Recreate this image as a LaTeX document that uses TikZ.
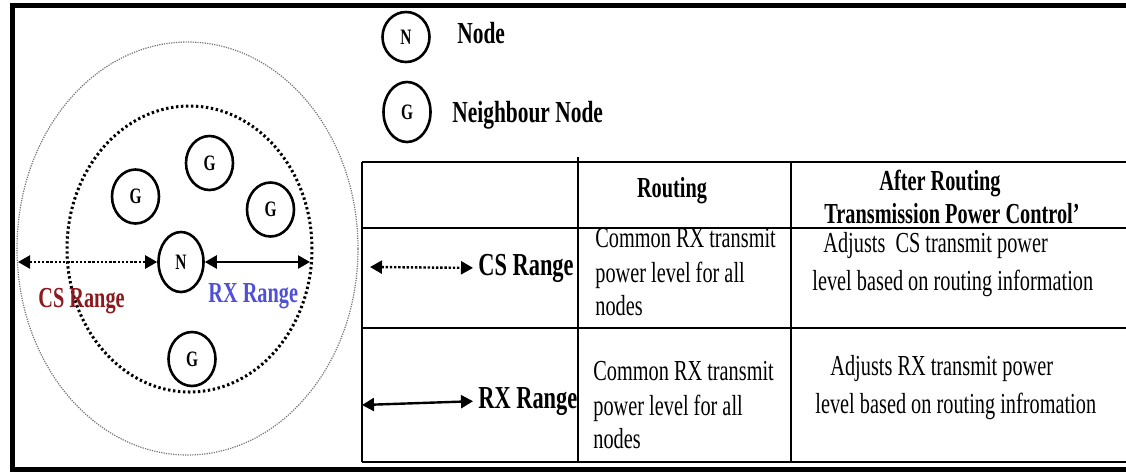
\documentclass[tikz,border=0pt]{standalone}
\usepackage{fontspec}
\setmainfont{Liberation Serif}[FakeStretch=0.7]
\usetikzlibrary{positioning}
\usetikzlibrary{arrows.meta,shapes}
\definecolor{csred}{RGB}{140,25,30}
\definecolor{rxblue}{RGB}{80,80,215}
\tikzstyle{vertex}=[ellipse,draw,line width=1.3pt,minimum width=23.5pt,minimum height=27pt,inner sep=0pt,font=\fontsize{11}{13}\selectfont\bfseries]
\tikzstyle{ringshape} = [ellipse,draw,inner sep=0pt]
\tikzstyle{csarrow} = [draw,line width=1.2pt,dash pattern=on 1.2pt off 0.9pt,{Triangle[length=6pt,width=6.5pt]}-{Triangle[length=6pt,width=6.5pt]}]
\tikzstyle{rxarrow} = [draw,line width=1.2pt,{Triangle[length=6pt,width=6.5pt]}-{Triangle[length=6pt,width=6.5pt]}]
\tikzstyle{cell} = [anchor=base west,inner sep=0pt,font=\fontsize{14.5}{17}\selectfont]
\tikzstyle{boldcell} = [cell,font=\fontsize{14.5}{17}\selectfont\bfseries]
\tikzstyle{keycell} = [cell,font=\fontsize{16}{19}\selectfont\bfseries]
\tikzstyle{legendcell} = [cell,font=\fontsize{15.3}{18}\selectfont\bfseries]
\tikzstyle{head} = [boldcell,anchor=base]
\tikzstyle{tableline} = [draw,line width=1.1pt]

\begin{document}
\begin{tikzpicture}[x=0.5pt,y=-0.5pt]
    \useasboundingbox (0,0) rectangle (1126,473);

    % frame
    \draw[line width=2.5pt] (1126,5) -- (12,5) -- (12,469) -- (1126,469);

    % CS and RX ranges
    \node[ringshape,draw=black!55,line width=0.6pt,dash pattern=on 0.6pt off 0.6pt,minimum width=170.5pt,minimum height=206.5pt] (csring) at (187.5,248.5) {};
    \node[ringshape,line width=1.5pt,dash pattern=on 1.2pt off 1.3pt,minimum width=122.5pt,minimum height=143pt] (rxring) at (189.5,249) {};

    % First we draw the vertices
    \node[vertex,minimum width=22.5pt,minimum height=30pt] (N) at (181,262) {N};
    \foreach \pos/\name in {{(135.5,196.5)/G1}, {(209.5,163)/G2}, {(270.5,209.5)/G3}, {(192,359)/G4}}
        \node[vertex] (\name) at \pos {G};

    % range arrows and labels
    \coordinate (csend) at (18,262);
    \coordinate (rxend) at (310,262);
    \path[csarrow] (csend) -- (N.west);
    \path[rxarrow] (N.east) -- (rxend);
    \node[boldcell,text=csred] (cslabel) at (38,307) {CS Range};
    \node[boldcell,text=rxblue] (rxlabel) at (208,302) {RX Range};

    % legend
    \node[vertex,minimum height=25pt] (legN) at (406,37) {N};
    \node[vertex,minimum height=30pt] (legG) at (407,112) {G};
    \node[legendcell] (legNtext) at (457,43) {Node};
    \node[legendcell] (legGtext) at (452,122) {Neighbour Node};

    % table
    \foreach \y in {162,228,328,462}
        \path[tableline] (362,\y) -- (1126,\y);
    \path[tableline] (362,162) -- (362,462);
    \path[tableline] (578,157) -- (578,462);
    \path[tableline] (791,162) -- (791,462);

    \node[head] (hrouting) at (672,197) {Routing};
    \node[head] (hafter) at (940,190) {After Routing};
    \node[head] (htpc) at (952,223) {Transmission Power Control’};

    \node[keycell] (cskey) at (478,275) {CS Range};
    \node[keycell] (rxkey) at (478,408) {RX Range};
    \coordinate (cskeyend) at (370,267);
    \coordinate (rxkeyend) at (362,405);
    \path[csarrow,shorten >=2.5pt] (cskeyend) -- (cskey.west);
    \path[rxarrow,shorten >=2.5pt] (rxkeyend) -- (rxkey.west);

    \foreach \pos/\name/\text in {{(595,247)/ra1/Common RX transmit}, {(595,282)/ra2/power level for all}, {(595,315)/ra3/nodes},
        {(593,380)/rb1/Common RX transmit}, {(593,415)/rb2/power level for all}, {(593,448)/rb3/nodes},
        {(823,252)/aa1/Adjusts \ CS transmit power}, {(812,290)/aa2/level based on routing information},
        {(830,375)/ab1/Adjusts RX transmit power}, {(815,413)/ab2/level based on routing infromation}}
        \node[cell] (\name) at \pos {\text};

\end{tikzpicture}
\end{document}
